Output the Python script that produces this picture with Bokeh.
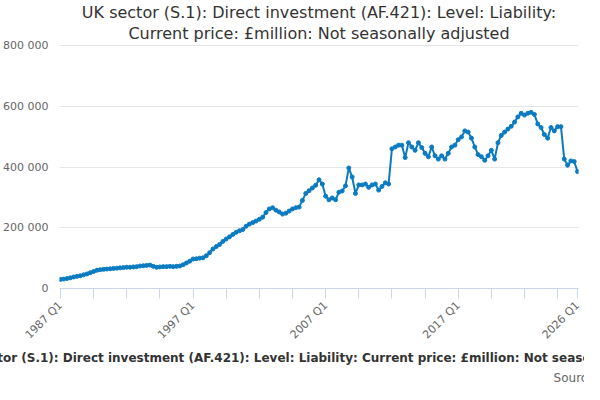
from bokeh.plotting import figure
from bokeh.models import Range1d, FixedTicker, CustomJSTickFormatter, Title
from bokeh.embed import file_html
from bokeh.resources import INLINE
import math

start_year = 1987
# values in £thousand million, quarterly from 1987 Q1 to 2026 Q1
values_k = [
    30, 31, 33, 35, 38, 40, 42, 45, 48, 52, 56, 60, 62, 63, 64, 65,
    66, 67, 68, 69, 70, 70, 71, 72, 74, 75, 76, 77, 73, 70, 71, 72,
    72, 73, 72, 73, 74, 78, 84, 90, 97, 98, 100, 101, 108, 118, 130, 138,
    145, 155, 163, 170, 178, 185, 190, 194, 205, 212, 217, 222, 228, 235, 250, 262,
    266, 258, 252, 245, 248, 255, 262, 266, 268, 290, 313, 322, 331, 340, 358, 344,
    304, 292, 298, 292, 317, 321, 338, 397, 367, 313, 341, 341, 344, 333, 341, 344,
    324, 336, 348, 344, 460, 466, 472, 472, 431, 480, 466, 455, 480, 464, 445, 434,
    466, 437, 426, 437, 426, 445, 466, 472, 490, 499, 519, 515, 495, 466, 441, 434,
    422, 437, 455, 426, 480, 504, 515, 525, 534, 548, 565, 577, 571, 577, 580, 573,
    542, 530, 507, 495, 530, 519, 533, 533, 426, 406, 420, 418, 385,
]
values = [v * 1000 for v in values_k]
quarters = [f"{start_year + i // 4} Q{i % 4 + 1}" for i in range(len(values))]
xs = list(range(len(values)))
y_ticks = [0, 200000, 400000, 600000, 800000]
tick_idx = list(range(0, len(values), 10)) + [len(values) - 1]
label_idx = [0, 40, 80, 120, len(values) - 1]

p = figure(width=584, height=384, output_backend="svg", toolbar_location=None,
           x_range=Range1d(-0.3, len(values) - 0.7), y_range=Range1d(0, 810000),
           min_border_left=22, min_border_right=6, min_border_top=2)
for line in ["Current price: £million: Not seasonally adjusted",
             "UK sector (S.1): Direct investment (AF.421): Level: Liability:"]:
    p.add_layout(Title(text=line, align="center", text_font_size="16px", standoff=0,
                       text_font_style="normal", text_color="#333333",
                       text_font="DejaVu Sans"), "above")

p.line(xs, values, line_color="#0b7bc1", line_width=2)
p.scatter(xs, values, size=4, color="#0b7bc1")

p.yaxis.ticker = FixedTicker(ticks=y_ticks)
p.yaxis.formatter = CustomJSTickFormatter(code="return tick==0 ? '0' : tick.toString().replace(/\\B(?=(\\d{3})+(?!\\d))/g, ' ');")
p.yaxis.axis_line_color = None
p.yaxis.major_tick_line_color = None
p.yaxis.minor_tick_line_color = None
p.yaxis.major_label_text_color = "#666666"
p.yaxis.major_label_text_font_size = "11px"
p.yaxis.major_label_text_font = "DejaVu Sans"

p.xaxis.ticker = FixedTicker(ticks=tick_idx)
p.xaxis.major_label_overrides = {i: (quarters[i] if i in label_idx else "") for i in tick_idx}
p.xaxis.major_label_orientation = math.pi / 4
p.xaxis.axis_line_color = "#ccd6eb"
p.xaxis.major_tick_line_color = "#ccd6eb"
p.xaxis.major_tick_out = 10
p.xaxis.major_tick_in = 0
p.xaxis.minor_tick_line_color = None
p.xaxis.major_label_text_color = "#666666"
p.xaxis.major_label_text_font_size = "11px"
p.xaxis.major_label_text_font = "DejaVu Sans"
p.xaxis.axis_label = "UK sector (S.1): Direct investment (AF.421): Level: Liability: Current price: £million: Not seasonally adjusted"
p.xaxis.axis_label_text_font_size = "12px"
p.xaxis.axis_label_text_font_style = "bold"
p.xaxis.axis_label_text_color = "#333333"
p.xaxis.axis_label_text_font = "DejaVu Sans"
p.xaxis.axis_label_standoff = 2

p.xgrid.grid_line_color = None
p.ygrid.grid_line_color = "#e6e6e6"
p.outline_line_color = None

p.add_layout(Title(text="Source: Office for National Statistics", align="right", offset=-192,
                   standoff=0, text_font_size="12px", text_font_style="normal",
                   text_color="#666666", text_font="DejaVu Sans"), "below")

open("out.html", "w").write(file_html(p, INLINE))
